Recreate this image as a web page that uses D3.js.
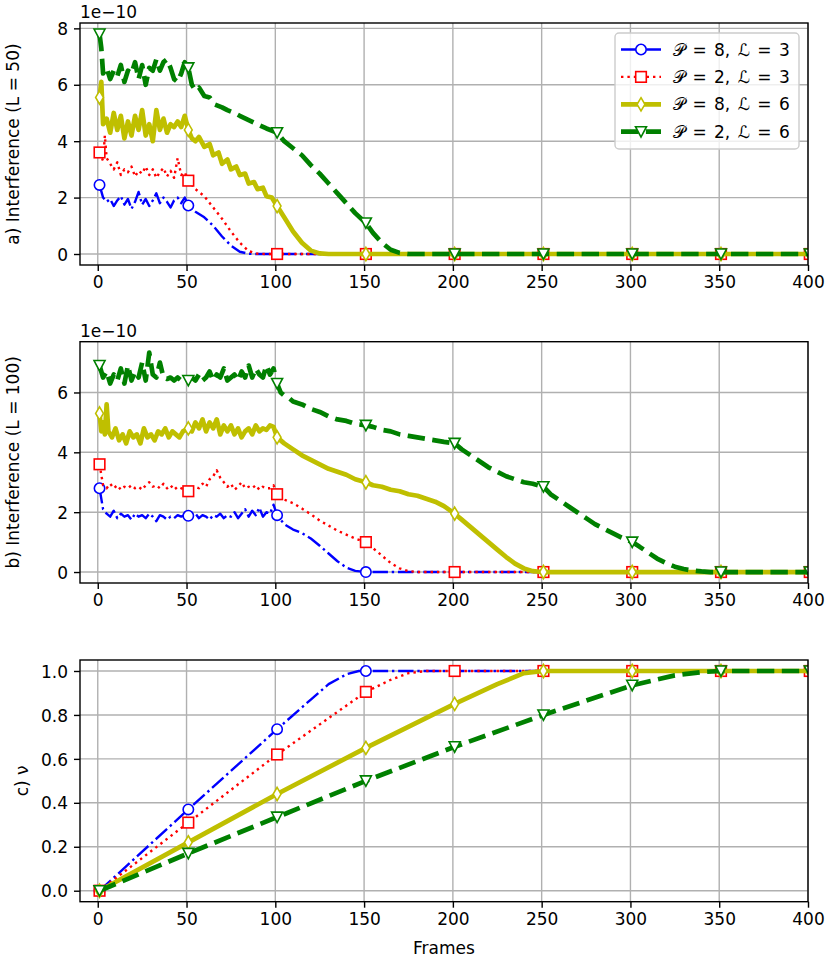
<!DOCTYPE html>
<html>
<head>
<meta charset="utf-8">
<script src="https://cdnjs.cloudflare.com/ajax/libs/d3/7.8.5/d3.min.js"></script>
<style>
  body { margin: 0; background: #fff; }
  svg text { font-family: "DejaVu Sans", sans-serif; fill: #000; }
</style>
</head>
<body>
<div id="chart"></div>
<script>
// ---- data (interference values are in units of 1e-10) ----
var xTicks = [0, 50, 100, 150, 200, 250, 300, 350, 400];
var markerFrames = [1, 51, 101, 151, 201, 251, 301, 351, 401];
var legendLabels = ["𝒫 = 8, ℒ = 3", "𝒫 = 2, ℒ = 3", "𝒫 = 8, ℒ = 6", "𝒫 = 2, ℒ = 6"];
var yTicksA = [0, 2, 4, 6, 8];
var yTicksB = [0, 2, 4, 6];
var yTicksC = [0, 0.2, 0.4, 0.6, 0.8, 1.0];

// panel a) L = 50
var aP8L3 = [[1,2.45],[3,2.0],[5,1.85],[7,1.95],[9,1.7],[11,1.9],[13,2.05],[15,1.75],[17,1.95],[19,1.6],[21,1.85],[23,2.2],[25,1.75],[27,1.95],[29,1.7],[31,1.9],[33,2.15],[35,1.8],[37,2.0],[39,1.85],[41,1.65],[43,1.9],[45,2.0],[47,1.8],[49,2.0],[51,1.72],[55,1.5],[60,1.3],[65,1.0],[70,0.62],[75,0.3],[80,0.08],[85,0.01],[90,0],[401,0]];
var aP2L3 = [[1,3.6],[3,3.3],[4,4.2],[5,3.4],[7,3.2],[9,3.0],[11,3.25],[13,2.8],[15,3.0],[17,2.9],[19,3.1],[21,2.75],[23,2.95],[25,2.85],[27,3.1],[29,2.8],[31,3.0],[33,2.7],[35,2.9],[37,3.05],[39,2.75],[41,2.95],[43,2.7],[45,3.4],[47,2.8],[49,2.9],[51,2.6],[55,2.3],[60,2.05],[65,1.65],[70,1.25],[75,0.8],[80,0.4],[85,0.1],[90,0.01],[95,0],[401,0]];
var aP8L6 = [[1,5.55],[2,6.1],[3,4.6],[5,4.8],[7,4.3],[9,5.0],[11,4.4],[13,4.9],[15,4.1],[17,4.7],[19,4.2],[21,4.9],[23,4.4],[25,5.1],[27,4.2],[29,4.6],[31,4.0],[33,5.1],[35,4.4],[37,4.8],[39,4.3],[41,4.6],[43,4.5],[45,4.7],[47,4.5],[49,4.9],[51,4.4],[53,4.1],[55,4.0],[57,4.15],[60,3.8],[63,3.9],[65,3.5],[68,3.6],[70,3.2],[73,3.35],[75,3.0],[78,3.1],[80,2.8],[83,2.85],[85,2.5],[88,2.55],[90,2.3],[93,2.35],[95,2.05],[98,2.0],[101,1.7],[105,1.3],[110,0.8],[115,0.4],[120,0.12],[125,0.02],[130,0],[401,0]];
var aP2L6 = [[1,7.8],[2,7.3],[3,6.4],[5,6.6],[7,6.2],[9,6.5],[11,6.3],[13,6.7],[15,6.1],[17,6.5],[19,6.4],[21,6.8],[23,6.2],[25,6.7],[27,6.0],[29,6.6],[31,6.5],[33,6.9],[35,6.5],[37,6.8],[39,6.9],[41,6.6],[43,6.2],[45,6.1],[47,6.4],[49,6.8],[51,6.6],[53,6.0],[55,5.8],[57,5.9],[60,5.6],[63,5.55],[66,5.3],[70,5.2],[73,5.1],[77,5.0],[80,4.9],[85,4.75],[90,4.6],[95,4.45],[101,4.3],[105,4.0],[110,3.75],[115,3.5],[120,3.15],[125,2.85],[130,2.5],[135,2.15],[140,1.8],[145,1.45],[151,1.1],[155,0.75],[160,0.4],[165,0.15],[170,0.04],[175,0],[401,0]];

// panel b) L = 100
var bP8L3 = [[1,2.8],[3,2.1],[5,1.95],[7,1.85],[9,2.05],[11,1.8],[13,1.95],[15,1.85],[17,1.9],[19,1.75],[21,1.95],[23,1.85],[25,1.9],[27,1.8],[29,1.95],[31,1.85],[33,1.7],[35,1.9],[37,1.85],[39,1.75],[41,1.85],[43,1.8],[45,1.9],[47,1.85],[49,1.9],[51,1.88],[53,1.85],[55,1.95],[57,1.8],[59,1.9],[61,1.85],[63,1.75],[65,1.9],[67,1.85],[69,1.95],[71,1.8],[73,1.9],[75,1.85],[77,2.0],[79,1.8],[81,1.95],[83,2.1],[85,1.85],[87,2.05],[89,1.9],[91,2.15],[93,1.85],[95,2.0],[97,1.95],[99,2.25],[101,1.9],[105,1.6],[110,1.42],[115,1.3],[120,1.12],[125,0.88],[130,0.62],[135,0.36],[140,0.15],[145,0.04],[151,0],[401,0]];
var bP2L3 = [[1,3.6],[3,2.9],[5,2.8],[7,2.95],[9,2.8],[11,2.9],[13,2.75],[15,2.85],[17,2.8],[19,2.9],[21,2.8],[23,2.85],[25,2.75],[27,2.9],[29,3.0],[31,2.85],[33,2.9],[35,2.8],[37,2.95],[39,2.8],[41,2.9],[43,2.75],[45,2.85],[47,2.8],[49,2.75],[51,2.7],[53,2.8],[55,2.85],[57,2.8],[59,2.95],[61,2.85],[63,3.1],[65,3.2],[67,3.4],[69,3.15],[71,3.0],[73,2.85],[75,2.95],[77,2.75],[79,2.85],[81,3.0],[83,2.8],[85,2.85],[87,2.8],[89,2.9],[91,2.75],[93,2.85],[95,2.8],[97,2.8],[99,2.9],[101,2.6],[105,2.42],[110,2.3],[115,2.12],[120,1.93],[125,1.72],[130,1.55],[135,1.38],[140,1.25],[145,1.12],[151,1.0],[155,0.8],[160,0.55],[165,0.3],[170,0.12],[175,0.03],[180,0],[401,0]];
var bP8L6 = [[1,5.3],[2,4.7],[3,5.0],[4,4.6],[5,5.6],[6,4.7],[8,4.5],[10,4.8],[12,4.4],[14,4.6],[16,4.3],[18,4.7],[20,4.5],[22,4.6],[24,4.3],[26,4.8],[28,4.5],[30,4.6],[32,4.4],[34,4.7],[36,4.6],[38,4.8],[40,4.5],[42,4.7],[44,4.6],[46,4.5],[48,4.7],[51,4.8],[53,4.7],[55,5.0],[57,4.8],[59,5.1],[61,4.7],[63,5.0],[65,4.8],[67,5.1],[69,4.6],[71,4.9],[73,4.7],[75,4.9],[77,4.6],[79,4.8],[81,4.5],[83,4.7],[85,4.8],[87,4.6],[89,4.9],[91,4.7],[93,4.8],[95,4.75],[97,4.9],[99,4.85],[101,4.5],[105,4.3],[110,4.1],[115,3.9],[120,3.75],[125,3.6],[130,3.45],[135,3.35],[140,3.25],[145,3.1],[151,3.0],[155,2.9],[160,2.85],[165,2.75],[170,2.7],[175,2.6],[180,2.55],[185,2.45],[190,2.35],[195,2.2],[201,1.95],[205,1.75],[210,1.5],[215,1.25],[220,1.0],[225,0.75],[230,0.5],[235,0.28],[240,0.12],[245,0.03],[250,0],[401,0]];
var bP2L6 = [[1,6.9],[3,6.5],[5,6.7],[7,6.3],[9,6.6],[11,6.4],[13,6.8],[15,6.3],[17,6.9],[19,6.4],[21,6.7],[23,6.5],[25,7.0],[27,6.4],[29,7.33],[31,6.6],[33,6.5],[35,7.0],[37,6.5],[39,6.45],[41,6.5],[43,6.4],[45,6.5],[47,6.4],[49,6.35],[51,6.4],[53,6.5],[55,6.4],[57,6.6],[59,6.4],[61,6.5],[63,6.7],[65,6.4],[67,6.6],[69,6.5],[71,6.8],[73,6.4],[75,6.5],[77,6.6],[79,6.4],[81,6.7],[83,6.5],[85,6.9],[87,6.5],[89,6.8],[91,6.6],[93,6.5],[95,6.9],[97,6.6],[99,6.8],[101,6.3],[103,6.0],[105,5.9],[108,5.8],[110,5.7],[115,5.6],[120,5.45],[125,5.35],[130,5.2],[135,5.1],[140,5.05],[145,4.95],[151,4.9],[155,4.85],[160,4.75],[165,4.7],[170,4.6],[175,4.55],[180,4.5],[185,4.45],[190,4.4],[195,4.35],[201,4.3],[205,4.1],[210,3.9],[215,3.7],[220,3.5],[225,3.35],[230,3.2],[235,3.1],[240,3.0],[245,2.95],[251,2.85],[255,2.6],[260,2.4],[265,2.2],[270,2.0],[275,1.8],[280,1.6],[285,1.45],[290,1.3],[295,1.15],[301,1.0],[305,0.85],[310,0.65],[315,0.45],[320,0.3],[325,0.18],[330,0.1],[335,0.05],[340,0.02],[345,0],[401,0]];

// panel c) nu
var cP8L3 = [[1,0],[51,0.37],[101,0.735],[120,0.87],[130,0.94],[140,0.985],[147,1.0],[401,1.0]];
var cP2L3 = [[1,0],[51,0.31],[101,0.62],[151,0.905],[165,0.96],[175,0.99],[185,1.0],[401,1.0]];
var cP8L6 = [[1,0],[51,0.22],[101,0.44],[151,0.65],[201,0.85],[225,0.94],[240,0.99],[251,1.0],[401,1.0]];
var cP2L6 = [[1,0],[51,0.17],[101,0.335],[151,0.5],[201,0.655],[251,0.8],[301,0.935],[325,0.98],[340,0.995],[351,1.0],[401,1.0]];

// ---- styles ----
var styles = [
  { color: "#0000ff", width: 2.4, dash: "15.4,3.8,2.4,3.8", marker: "circle" },
  { color: "#ff0000", width: 2.4, dash: "2.4,4", marker: "square" },
  { color: "#bfbf00", width: 4.7, dash: null, marker: "diamond" },
  { color: "#008000", width: 4.7, dash: "17.4,7.5", marker: "triangle" }
];

var W = 828, H = 962;
var left = 80, right = 808;

var svg = d3.select("#chart").append("svg")
  .attr("width", W).attr("height", H);

var x = d3.scaleLinear().domain([-10, 400]).range([left, right]);

// linear lookup of a series at a frame (for marker placement)
function valueAt(data, f) {
  var i = d3.bisector(function (d) { return d[0]; }).left(data, f);
  if (i >= data.length) return data[data.length - 1][1];
  if (data[i][0] === f || i === 0) return data[i][1];
  var a = data[i - 1], b = data[i];
  return a[1] + (b[1] - a[1]) * (f - a[0]) / (b[0] - a[0]);
}

function addMarker(g, type, cx, cy, color) {
  var m;
  if (type === "circle") {
    m = g.append("circle").attr("cx", cx).attr("cy", cy).attr("r", 5.2);
  } else if (type === "square") {
    m = g.append("rect").attr("x", cx - 5.3).attr("y", cy - 5.3).attr("width", 10.6).attr("height", 10.6);
  } else if (type === "diamond") {
    m = g.append("path").attr("d", "M" + cx + "," + (cy - 6.6) + "L" + (cx + 3.9) + "," + cy +
      "L" + cx + "," + (cy + 6.6) + "L" + (cx - 3.9) + "," + cy + "Z");
  } else {
    m = g.append("path").attr("d", "M" + (cx - 5.5) + "," + (cy - 5) + "L" + (cx + 5.5) + "," + (cy - 5) +
      "L" + cx + "," + (cy + 5.4) + "Z");
  }
  m.attr("fill", "#fff").attr("stroke", color).attr("stroke-width", 1.6).attr("stroke-linejoin", "miter");
}

function drawPanel(id, top, bottom, yDomain, yTicks, fmt, label, labelX, offsetText, series) {
  var y = d3.scaleLinear().domain(yDomain).range([bottom, top]);
  var g = svg.append("g").attr("class", "panel-" + id);

  // grid
  g.selectAll(".vgrid").data(xTicks).enter().append("line")
    .attr("x1", function (d) { return x(d); }).attr("x2", function (d) { return x(d); })
    .attr("y1", top).attr("y2", bottom)
    .attr("stroke", "#b0b0b0").attr("stroke-width", 1.4);
  g.selectAll(".hgrid").data(yTicks).enter().append("line")
    .attr("x1", left).attr("x2", right)
    .attr("y1", function (d) { return y(d); }).attr("y2", function (d) { return y(d); })
    .attr("stroke", "#b0b0b0").attr("stroke-width", 1.4);

  // clip
  svg.append("clipPath").attr("id", "clip-" + id).append("rect")
    .attr("x", left).attr("y", top).attr("width", right - left).attr("height", bottom - top);
  var plot = g.append("g").attr("clip-path", "url(#clip-" + id + ")");

  var line = d3.line()
    .x(function (d) { return x(d[0]); })
    .y(function (d) { return y(d[1]); });

  series.forEach(function (data, i) {
    var s = styles[i];
    plot.append("path")
      .datum(data)
      .attr("d", line)
      .attr("fill", "none")
      .attr("stroke", s.color)
      .attr("stroke-width", s.width)
      .attr("stroke-linejoin", "round")
      .attr("stroke-dasharray", s.dash);
    markerFrames.forEach(function (f) {
      addMarker(plot, s.marker, x(f), y(valueAt(data, f)), s.color);
    });
  });

  // axes
  var xAxis = g.append("g")
    .attr("transform", "translate(0," + bottom + ")")
    .call(d3.axisBottom(x).tickValues(xTicks).tickSize(6).tickSizeOuter(0).tickPadding(5));
  var yAxis = g.append("g")
    .attr("transform", "translate(" + left + ",0)")
    .call(d3.axisLeft(y).tickValues(yTicks).tickFormat(fmt).tickSize(6).tickSizeOuter(0).tickPadding(6));
  [xAxis, yAxis].forEach(function (ax) {
    ax.select(".domain").remove();
    ax.attr("font-size", 17).attr("font-family", "DejaVu Sans");
    ax.selectAll("line").attr("stroke", "#000").attr("stroke-width", 1.4);
    ax.selectAll("text").attr("fill", "#000");
  });
  yAxis.selectAll("text").attr("dy", "0.36em");

  // frame
  g.append("rect")
    .attr("x", left).attr("y", top).attr("width", right - left).attr("height", bottom - top)
    .attr("fill", "none").attr("stroke", "#000").attr("stroke-width", 1.4);

  // y label
  g.append("text")
    .attr("transform", "translate(" + labelX + "," + ((top + bottom) / 2) + ") rotate(-90)")
    .attr("text-anchor", "middle")
    .attr("font-size", 17)
    .text(label);

  if (offsetText) {
    g.append("text")
      .attr("x", left).attr("y", top - 5)
      .attr("font-size", 17)
      .text(offsetText);
  }
  return g;
}

var fmtInt = d3.format("d");
var fmt1 = d3.format(".1f");

drawPanel("a", 23, 265, [-0.39, 8.19], yTicksA, fmtInt, "a) Interference (L = 50)", 19, "1e\u221210",
  [aP8L3, aP2L3, aP8L6, aP2L6]);
drawPanel("b", 341.7, 583, [-0.3665, 7.6965], yTicksB, fmtInt, "b) Interference (L = 100)", 19, "1e\u221210",
  [bP8L3, bP2L3, bP8L6, bP2L6]);
drawPanel("c", 660, 901.7, [-0.05, 1.05], yTicksC, fmt1, "c) \u03bd", 28, null,
  [cP8L3, cP2L3, cP8L6, cP2L6]);

// x label
svg.append("text")
  .attr("x", (left + right) / 2).attr("y", 954)
  .attr("text-anchor", "middle")
  .attr("font-size", 17)
  .text("Frames");

// legend (panel a)
var lg = svg.append("g").attr("class", "legend");
lg.append("rect")
  .attr("x", 615).attr("y", 33).attr("width", 184).attr("height", 116)
  .attr("rx", 4).attr("ry", 4)
  .attr("fill", "#fff").attr("fill-opacity", 0.8)
  .attr("stroke", "#cccccc").attr("stroke-width", 1.4);
legendLabels.forEach(function (name, i) {
  var s = styles[i];
  var ly = 49.5 + i * 27.4;
  lg.append("line")
    .attr("x1", 621).attr("x2", 661).attr("y1", ly).attr("y2", ly)
    .attr("stroke", s.color).attr("stroke-width", s.width)
    .attr("stroke-dasharray", s.dash);
  addMarker(lg, s.marker, 641, ly, s.color);
  lg.append("text")
    .attr("x", 673).attr("y", ly).attr("dy", "0.36em")
    .attr("font-size", 17)
    .attr("word-spacing", 2)
    .text(name);
});
</script>
</body>
</html>
